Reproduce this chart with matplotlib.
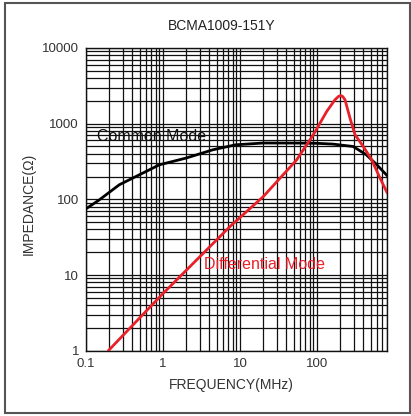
import matplotlib
matplotlib.use("Agg")
import matplotlib.pyplot as plt
from matplotlib.patches import Rectangle
from matplotlib.ticker import FixedLocator, NullFormatter, LogLocator

plt.rcParams['font.family'] = ['Liberation Sans', 'DejaVu Sans']

title = "BCMA1009-151Y"
xlabel = "FREQUENCY(MHz)"
ylabel = "IMPEDANCE(Ω)"

xticks = [0.1, 1, 10, 100]
xtick_labels = ["0.1", "1", "10", "100"]
yticks = [1, 10, 100, 1000, 10000]
ytick_labels = ["1", "10", "100", "1000", "10000"]

cm_freq = [0.1, 0.149, 0.271, 0.493, 0.897, 1.99, 4.45, 8.8, 20, 60, 100, 162, 295, 437, 599, 818]
cm_imp = [75, 98.5, 156, 211, 286, 351, 452, 526, 555, 554, 550, 537, 499, 388, 286, 205]

dm_freq = [0.195, 1.0, 2.03, 7.4, 20.1, 54.5, 60.1, 89.5, 133.6, 171, 190, 203, 216, 231, 268, 312, 399, 513, 658, 818]
dm_imp = [1.0, 5.7, 11.7, 43.7, 109, 333, 388, 713, 1450, 2070, 2290, 2360, 2280, 2070, 1186, 713, 499, 333, 191, 121]

W, H = 411, 416
fig = plt.figure(figsize=(W / 100, H / 100), dpi=100)
fig.patch.set_facecolor("white")

ax = fig.add_axes([86 / W, (H - 350.7) / H, 301.3 / W, 302.7 / H])
ax.set_xscale("log")
ax.set_yscale("log")
ax.set_xlim(0.1, 818)
ax.set_ylim(1, 10000)

ax.xaxis.set_major_locator(FixedLocator(xticks))
ax.set_xticklabels(xtick_labels)
ax.yaxis.set_major_locator(FixedLocator(yticks))
ax.set_yticklabels(ytick_labels)
ax.xaxis.set_minor_locator(LogLocator(base=10, subs=range(2, 10), numticks=20))
ax.yaxis.set_minor_locator(LogLocator(base=10, subs=range(2, 10), numticks=20))
ax.xaxis.set_minor_formatter(NullFormatter())
ax.yaxis.set_minor_formatter(NullFormatter())
ax.tick_params(which="both", length=0, labelsize=9.5, colors="#333333", pad=5)
ax.grid(True, which="both", color="#111111", lw=0.9)
for s in ax.spines.values():
    s.set_color("#111111")
    s.set_linewidth(1.0)

ax.plot(cm_freq, cm_imp, color="black", lw=2.0, zorder=3,
        solid_joinstyle="round", solid_capstyle="round")
ax.plot(dm_freq, dm_imp, color="#e8202a", lw=2.0, zorder=4,
        solid_joinstyle="round", solid_capstyle="round")

ax.text(0.14, 670, "Common Mode", color="#111111", fontsize=11.5, va="center", ha="left", zorder=5)
ax.text(3.38, 13.6, "Differential Mode", color="#e8202a", fontsize=11.5, va="center", ha="left", zorder=5)

fig.text(222 / W, 1 - 26 / H, title, ha="center", va="center", fontsize=10, color="#222222")
fig.text(231 / W, 1 - 385 / H, xlabel, ha="center", va="center", fontsize=10, color="#333333")
fig.text(29 / W, 1 - 204 / H, ylabel, ha="center", va="center", rotation=90, fontsize=10, color="#333333")

fig.patches.append(Rectangle((5 / W, (H - 413) / H), 405 / W, 410 / H, transform=fig.transFigure,
                             fill=False, edgecolor="#555555", lw=1.5))

fig.savefig("out.png", dpi=100, facecolor="white")
